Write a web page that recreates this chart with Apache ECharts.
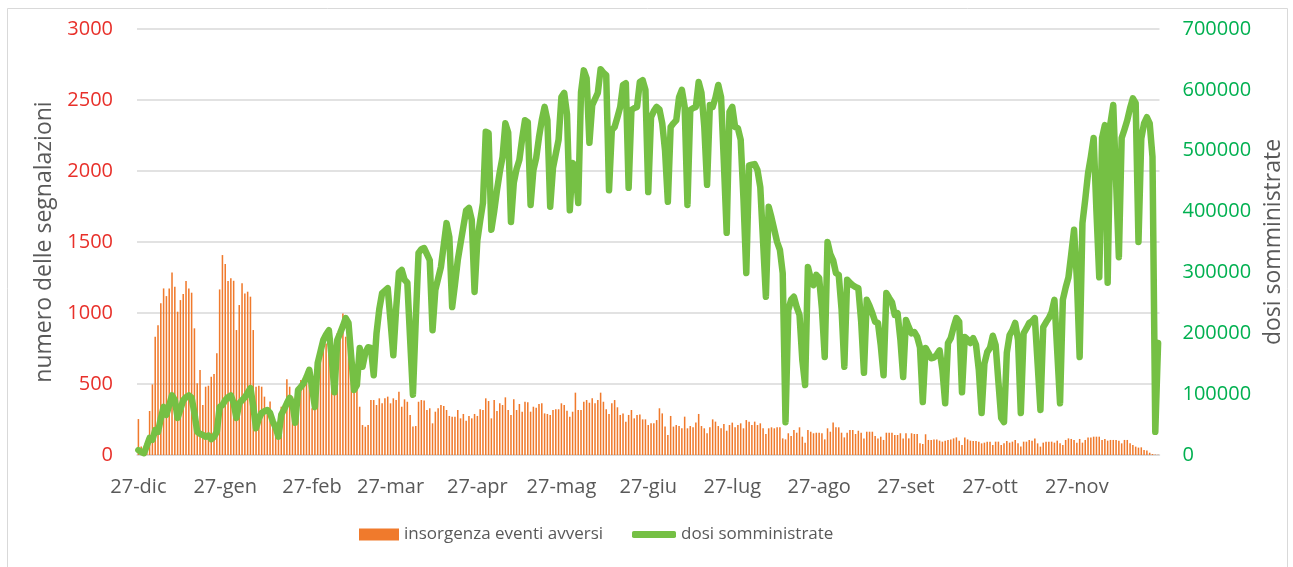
<!DOCTYPE html>
<html>
<head>
<meta charset="utf-8">
<title>eventi avversi e dosi</title>
<script src="https://cdn.jsdelivr.net/npm/echarts@6/dist/echarts.min.js"></script>
<style>
  html, body { margin: 0; padding: 0; background: #fff; }
  #main { width: 1293px; height: 567px; }
</style>
</head>
<body>
<div id="main"></div>
<script>
// primo giorno della serie: 27 dicembre 2020, un valore al giorno
const startDate = [2020, 11, 27]
const mesi = ['gen', 'feb', 'mar', 'apr', 'mag', 'giu', 'lug', 'ago', 'set', 'ott', 'nov', 'dic']

// insorgenza eventi avversi (asse sinistro)
const eventiAvversi = [
  253, 59, 30, 80, 310, 497, 833, 913, 1068, 1173,
  1119, 1173, 1286, 1185, 1009, 1091, 1133, 1225, 1173, 1143,
  892, 505, 598, 352, 481, 488, 551, 570, 716, 1166,
  1408, 1345, 1225, 1244, 1227, 880, 1056, 1209, 1138, 1150,
  1115, 880, 481, 488, 481, 411, 329, 376, 246, 176,
  199, 340, 305, 533, 481, 411, 270, 434, 528, 540,
  551, 493, 329, 411, 692, 716, 739, 786, 833, 786,
  763, 857, 857, 997, 833, 810, 692, 575, 622, 340,
  211, 199, 211, 387, 387, 352, 399, 364, 399, 411,
  364, 399, 387, 446,
  340, 392, 375, 282, 200, 204, 375, 387, 383, 317,
  329, 223, 305, 329, 352, 345, 317, 275, 270, 270,
  317, 258, 289, 242, 275, 258, 289, 275, 322, 317,
  399, 380, 258, 387, 310, 364, 352, 406, 317, 282,
  392, 317, 359, 305, 375, 371, 305, 340, 333, 359,
  364, 293, 289, 282, 317, 322, 322, 364, 352, 312,
  270, 305, 439, 317, 317, 375, 387, 368, 399, 364,
  387, 439, 375, 322, 289, 364, 387, 336, 282, 293,
  235, 282, 317, 258, 282, 286, 251, 251, 211, 223,
  223, 246, 329, 293,
  200, 141, 275, 200, 211, 204, 188, 270, 188, 204,
  195, 228, 289, 204, 188, 153, 195, 251, 235, 204,
  188, 218, 171, 211, 228, 195, 211, 223, 188, 246,
  235, 211, 235, 211, 223, 188, 148, 188, 195, 188,
  195, 195, 117, 110, 153, 134, 176, 157, 195, 129,
  87, 176, 164, 153, 157, 157, 153, 110, 188, 164,
  228, 195, 195, 157, 124, 157, 176, 176, 148, 171,
  157, 117, 164, 164, 164, 134, 117, 129, 106, 157,
  157, 157, 141, 141, 153, 117, 153, 117, 153, 148,
  148, 82,
  77, 146, 106, 106, 110, 110, 101, 94, 101, 106,
  110, 117, 124, 101, 70, 124, 110, 101, 99, 99,
  94, 82, 87, 94, 94, 70, 94, 94, 70, 82,
  99, 87, 94, 106, 82, 59, 94, 94, 106, 101,
  117, 82, 59, 87, 94, 94, 94, 87, 101, 82,
  70, 106, 117, 113, 106, 87, 113, 87, 106, 124,
  124, 129, 129, 129, 106, 113, 101, 106, 106, 106,
  101, 82, 106, 106, 82, 70, 59, 52, 54, 35,
  31, 16, 7, 3,
  2
]

// dosi somministrate (asse destro), una riga per settimana
const dosiSomministrate = [
  8000, 5000, 3000, 15000, 28000, 25000, 41000,
  38000, 60000, 79000, 66000, 82000, 98000, 90000,
  61000, 75000, 90000, 95000, 98000, 94000, 69000,
  38000, 35000, 33000, 30000, 32000, 26000, 30000,
  38000, 79000, 82000, 90000, 95000, 98000, 85000,
  61000, 85000, 90000, 95000, 102000, 110000, 80000,
  44000, 60000, 69000, 72000, 74000, 69000, 55000,
  45000, 30000, 66000, 75000, 85000, 94000, 85000,
  53000, 107000, 112000, 118000, 128000, 140000, 110000,
  79000, 151000, 170000, 189000, 198000, 205000, 160000,
  103000, 189000, 200000, 212000, 225000, 217000, 160000,
  107000, 115000, 176000, 145000, 168000, 177000, 176000,
  131000, 200000, 240000, 266000, 270000, 274000, 220000,
  164000, 240000, 300000, 304000, 288000, 283000, 190000,
  99000, 220000, 332000, 338000, 340000, 330000, 320000,
  205000, 271000, 290000, 309000, 345000, 381000, 358000,
  243000, 280000, 320000, 348000, 375000, 402000, 406000,
  386000, 268000, 353000, 385000, 414000, 531000, 529000,
  370000, 400000, 435000, 465000, 490000, 545000, 530000,
  383000, 447000, 470000, 485000, 520000, 550000, 547000,
  411000, 468000, 488000, 522000, 550000, 572000, 550000,
  408000, 472000, 495000, 518000, 588000, 595000, 560000,
  402000, 480000, 473000, 414000, 596000, 632000, 619000,
  513000, 575000, 585000, 595000, 634000, 628000, 624000,
  435000, 534000, 539000, 555000, 572000, 608000, 611000,
  439000, 567000, 570000, 572000, 613000, 616000, 600000,
  432000, 555000, 565000, 572000, 568000, 545000, 500000,
  416000, 539000, 545000, 550000, 588000, 600000, 572000,
  411000, 567000, 570000, 572000, 613000, 595000, 540000,
  444000, 575000, 572000, 587000, 608000, 588000, 480000,
  365000, 564000, 572000, 539000, 537000, 518000, 420000,
  299000, 476000, 477000, 478000, 468000, 440000, 350000,
  260000, 408000, 390000, 370000, 350000, 337000, 299000,
  54000, 238000, 255000, 260000, 243000, 230000, 156000,
  115000, 309000, 290000, 279000, 296000, 291000, 240000,
  161000, 350000, 330000, 320000, 299000, 296000, 240000,
  145000, 288000, 283000, 279000, 276000, 274000, 220000,
  135000, 255000, 245000, 233000, 219000, 217000, 180000,
  131000, 266000, 258000, 251000, 230000, 233000, 190000,
  128000, 222000, 210000, 200000, 202000, 194000, 177000,
  87000, 176000, 168000, 159000, 160000, 165000, 172000,
  140000, 85000, 184000, 192000, 210000, 225000, 219000,
  103000, 194000, 190000, 184000, 192000, 181000, 140000,
  69000, 150000, 169000, 176000, 196000, 181000, 120000,
  61000, 54000, 168000, 197000, 205000, 217000, 189000,
  69000, 200000, 208000, 217000, 220000, 225000, 150000,
  74000, 210000, 218000, 225000, 235000, 255000, 170000,
  85000, 255000, 275000, 292000, 330000, 370000, 290000,
  161000, 381000, 420000, 463000, 490000, 521000, 400000,
  292000, 521000, 542000, 283000, 545000, 575000, 450000,
  325000, 521000, 535000, 550000, 570000, 586000, 578000,
  350000, 520000, 545000, 555000, 545000, 490000, 38000,
  184000
]

// categorie: una data per ogni valore
let giorni = []
for (let i = 0; i < eventiAvversi.length; i++) {
  let d = new Date(startDate[0], startDate[1], startDate[2] + i)
  giorni.push(d.getDate() + '-' + mesi[d.getMonth()] + '-' + d.getFullYear())
}

function isLabelDay(index, value) {
  return value.split('-')[0] === '27'
}

// numeri senza separatore delle migliaia
function plainNumber(value) {
  return String(value)
}

const fontName = 'Open Sans'
const textGrey = '#595959'
const gridGrey = '#d9d9d9'
const orange = '#F07A2C'
const green = '#75C044'

let myChart = echarts.init(document.getElementById('main'))

let option = {
  animation: false,
  backgroundColor: '#fff',
  graphic: [{
    type: 'rect',
    shape: { x: 7.5, y: 8.5, width: 1280, height: 600 },
    style: { fill: 'none', stroke: gridGrey, lineWidth: 1 }
  }],
  grid: {
    left: 137,
    right: 130,
    top: 29,
    bottom: 112
  },
  legend: [{
    left: 354,
    top: 521,
    itemWidth: 40,
    itemHeight: 12,
    textStyle: { fontFamily: fontName, fontSize: 17, color: textGrey },
    data: [{ name: 'insorgenza eventi avversi', icon: 'rect' }]
  }, {
    left: 627,
    top: 521,
    itemWidth: 44,
    itemHeight: 7,
    textStyle: { fontFamily: fontName, fontSize: 17, color: textGrey },
    data: [{ name: 'dosi somministrate', icon: 'roundRect' }]
  }],
  xAxis: [{
    type: 'category',
    data: giorni,
    boundaryGap: true,
    axisLine: { lineStyle: { color: gridGrey, width: 1.5 } },
    axisTick: {
      interval: isLabelDay,
      length: 6,
      lineStyle: { color: gridGrey, width: 1.5 }
    },
    axisLabel: {
      interval: isLabelDay,
      margin: 22,
      fontFamily: fontName,
      fontSize: 20,
      color: textGrey,
      formatter: function (value) {
        let p = value.split('-')
        return p[0] + '-' + p[1]
      }
    }
  }],
  yAxis: [{
    type: 'value',
    min: 0,
    max: 3000,
    interval: 500,
    name: 'numero delle segnalazioni',
    nameLocation: 'middle',
    nameRotate: 90,
    nameGap: 80,
    nameTextStyle: { fontFamily: fontName, fontSize: 23, color: textGrey },
    axisLine: { show: false },
    axisTick: { show: false },
    axisLabel: { margin: 24, fontFamily: fontName, fontSize: 20, color: '#E8302A', formatter: plainNumber },
    splitLine: { lineStyle: { color: gridGrey, width: 1.5 } }
  }, {
    type: 'value',
    min: 0,
    max: 700000,
    interval: 100000,
    name: 'dosi somministrate',
    nameLocation: 'middle',
    nameRotate: 90,
    nameGap: 102,
    nameTextStyle: { fontFamily: fontName, fontSize: 23, color: textGrey },
    axisLine: { show: false },
    axisTick: { show: false },
    axisLabel: { margin: 23, fontFamily: fontName, fontSize: 20, color: '#00B050', formatter: plainNumber },
    splitLine: { show: false }
  }],
  series: [{
    name: 'insorgenza eventi avversi',
    type: 'bar',
    yAxisIndex: 0,
    data: eventiAvversi,
    barWidth: '55%',
    itemStyle: { color: orange }
  }, {
    name: 'dosi somministrate',
    type: 'line',
    yAxisIndex: 1,
    data: dosiSomministrate,
    showSymbol: false,
    symbol: 'none',
    lineStyle: { color: green, width: 6.5, cap: 'round', join: 'round' },
    itemStyle: { color: green }
  }]
}

myChart.setOption(option)
</script>
</body>
</html>
